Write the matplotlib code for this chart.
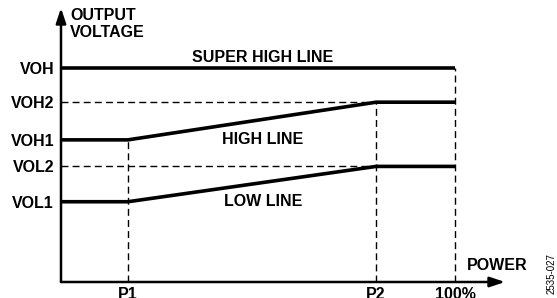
import matplotlib
matplotlib.use("Agg")
import matplotlib.pyplot as plt

plt.rcParams['font.family'] = ['Liberation Sans', 'DejaVu Sans']

# power axis (% of full power)
p1 = 17
p2 = 80
p_full = 100
x_ticks = [p1, p2, p_full]
x_tick_labels = ["P1", "P2", "100%"]

# output voltage levels (arbitrary units)
voh = 100
voh2 = 84
voh1 = 66.4
vol2 = 54
vol1 = 37.5
y_ticks = [voh, voh2, voh1, vol2, vol1]
y_tick_labels = ["VOH", "VOH2", "VOH1", "VOL2", "VOL1"]

# the three lines
power = [0, p1, p2, p_full]
super_high = [voh, voh, voh, voh]
high_line = [voh1, voh1, voh2, voh2]
low_line = [vol1, vol1, vol2, vol2]

W, H = 557, 298
fig = plt.figure(figsize=(W / 100, H / 100), dpi=100)
ax = fig.add_axes([61 / W, (H - 282) / H, (505 - 61) / W, (282 - 8) / H])
x_max = 112.7
y_max = 128
ax.set_xlim(0, x_max)
ax.set_ylim(0, y_max)
for s in ax.spines.values():
    s.set_visible(False)

# axes with arrows
arr = dict(arrowstyle='-|>,head_length=0.9,head_width=0.3', lw=1.8, color='black',
           shrinkA=0, shrinkB=0)
ax.annotate('', xy=(x_max, 0), xytext=(0, 0), arrowprops=arr, annotation_clip=False)
ax.annotate('', xy=(0, y_max), xytext=(0, 0), arrowprops=arr, annotation_clip=False)

# dashed guides
dash = dict(color='black', lw=1, linestyle=(0, (5, 3)))
ax.plot([0, p2], [voh2, voh2], **dash)
ax.plot([0, p2], [vol2, vol2], **dash)
ax.plot([p1, p1], [0, voh1], **dash)
ax.plot([p2, p2], [0, voh2], **dash)
ax.plot([p_full, p_full], [0, voh], **dash)

# solid lines
ax.plot(power, super_high, color='black', lw=2.6, solid_capstyle='butt')
ax.plot(power, high_line, color='black', lw=2.6, solid_capstyle='butt')
ax.plot(power, low_line, color='black', lw=2.6, solid_capstyle='butt')

fs = 11.5
ax.set_xticks(x_ticks, x_tick_labels, fontsize=fs, fontweight='bold')
ax.set_yticks(y_ticks, y_tick_labels, fontsize=fs, fontweight='bold')
ax.tick_params(axis='both', length=0)
ax.tick_params(axis='x', pad=3.5)
ax.tick_params(axis='y', pad=5)

bold = dict(fontsize=fs, fontweight='bold')
ax.text(51.3, 104.9, "SUPER HIGH LINE", ha='center', va='center', **bold)
ax.text(51.3, 66.8, "HIGH LINE", ha='center', va='center', **bold)
ax.text(51.3, 37.6, "LOW LINE", ha='center', va='center', **bold)
ax.text(103, 7.7, "POWER", ha='left', va='center', **bold)
ax.text(2.3, 127.8, "OUTPUT\nVOLTAGE", ha='left', va='top', linespacing=1.15,
        clip_on=False, **bold)

fig.text(552 / W, 1 - 274 / H, "2535-027", rotation=90, fontsize=7,
         ha='center', va='center')

plt.savefig('out.png', dpi=100)
